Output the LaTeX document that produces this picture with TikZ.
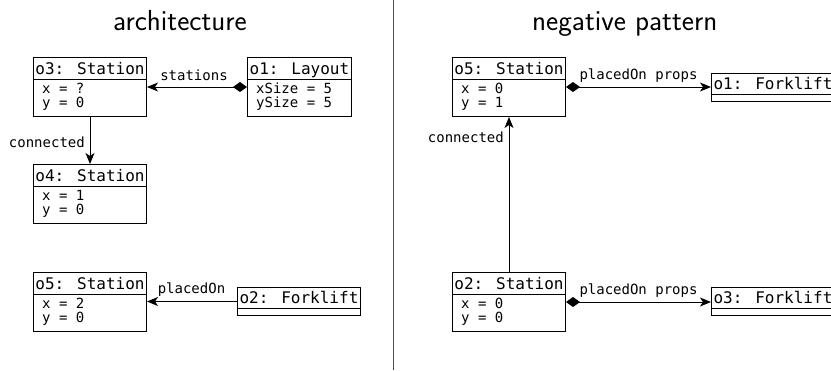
\documentclass[tikz,border=0pt]{standalone}
\usepackage{fontspec}
\usetikzlibrary{arrows.meta}
\newfontfamily\monofont{DejaVu Sans Mono}
\newcommand\headfont{\monofont\fontsize{16}{18}\selectfont}
\newcommand\attrfont{\monofont\fontsize{14}{16}\selectfont}
\newcommand\titlefont{\sffamily\fontsize{29}{34}\selectfont}
\tikzset{
  objbox/.style={draw, line width=1pt, inner sep=0pt, anchor=north west},
  headtxt/.style={font=\headfont, inner sep=0pt, anchor=base},
  attrtxt/.style={font=\attrfont, inner sep=0pt, anchor=base west},
  lbl/.style={font=\attrfont, inner sep=0pt},
  titletxt/.style={font=\titlefont, inner sep=0pt, anchor=base west},
  link/.style={line width=1pt, -{Stealth[length=11pt,width=9pt,inset=3pt]}},
  comp/.style={line width=1pt, {Diamond[length=14pt,width=10pt]}-{Stealth[length=11pt,width=9pt,inset=3pt]}},
}
\newcommand\umlobj[7]{%
  \node[objbox, minimum width=#4pt, minimum height=59pt] (#1) at (#2,#3) {};
  \draw[line width=1pt] ([yshift=-22pt]#1.north west) -- ([yshift=-22pt]#1.north east);
  \node[headtxt] (#1-h) at ([yshift=-17pt]#1.north) {#5};
  \node[attrtxt] (#1-a) at ([shift={(9pt,-36pt)}]#1.north west) {#6};
  \node[attrtxt] (#1-b) at ([shift={(9pt,-50.5pt)}]#1.north west) {#7};
}
\newcommand\umlempty[5]{%
  \node[objbox, minimum width=#4pt, minimum height=28pt] (#1) at (#2,#3) {};
  \draw[line width=1pt] ([yshift=-21pt]#1.north west) -- ([yshift=-21pt]#1.north east);
  \node[headtxt] (#1-h) at ([yshift=-16.5pt]#1.north) {#5};
}
\begin{document}
\begin{tikzpicture}[x=1pt,y=-1pt]
\useasboundingbox (0,0) rectangle (831,370);
% titles
\node[titletxt] (t1) at (113,30) {architecture};
\node[titletxt] (t2) at (532,30) {negative pattern};
% divider
\draw[line width=1pt, black!70] (393,0) -- (393,370);
% left
\umlobj{o3}{33}{57}{113}{o3: Station}{x = ?}{y = 0}
\umlobj{o1}{247}{57}{104}{o1: Layout}{xSize = 5}{ySize = 5}
\umlobj{o4}{33}{164}{113}{o4: Station}{x = 1}{y = 0}
\umlobj{o5}{33}{272}{113}{o5: Station}{x = 2}{y = 0}
\umlempty{o2}{237}{287}{123}{o2: Forklift}
\draw[comp] (o1.west) -- (o3.east);
\node[lbl, anchor=base] (l1) at (194,80.5) {stations};
\draw[link] (o3.south) -- (o4.north);
\node[lbl, anchor=base east] (l2) at (85,147.5) {connected};
\draw[link] (o2.west) -- (o2.west -| o5.east);
\node[lbl, anchor=base] (l3) at (191.5,293.5) {placedOn};
% right
\umlobj{r5}{452}{57}{113}{o5: Station}{x = 0}{y = 1}
\umlempty{r1}{711}{73}{123}{o1: Forklift}
\umlobj{r2}{452}{272}{113}{o2: Station}{x = 0}{y = 0}
\umlempty{r3}{711}{287}{123}{o3: Forklift}
\draw[comp] (r5.east) -- (r5.east -| r1.west);
\node[lbl, anchor=base] (l4) at (638.5,79.5) {placedOn props};
\draw[comp] (r2.east) -- (r2.east -| r3.west);
\node[lbl, anchor=base] (l5) at (638.5,294) {placedOn props};
\draw[link] (r2.north) -- (r5.south);
\node[lbl, anchor=base east] (l6) at (504,142) {connected};
\end{tikzpicture}
\end{document}
